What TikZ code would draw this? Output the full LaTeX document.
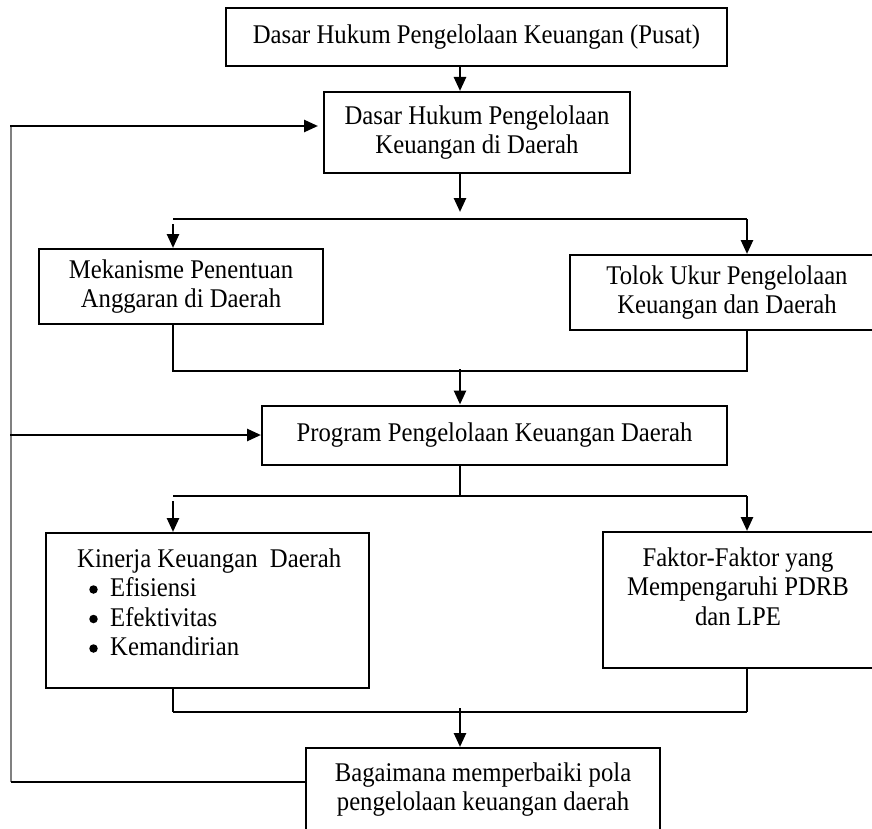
\documentclass[tikz,border=0pt]{standalone}
\usepackage{fontspec}
\setmainfont[FakeStretch=0.915]{Liberation Serif}
\usetikzlibrary{arrows.meta}
\newcommand\dfont{\fontsize{27pt}{29.5pt}\selectfont}
\begin{document}
\begin{tikzpicture}[x=1pt,y=-1pt,
  box/.style={draw,line width=2pt,rectangle,inner sep=0pt,align=center,font=\dfont},
  txt/.style={inner sep=0pt,font=\dfont},
  bul/.style={circle,fill=black,inner sep=0pt,minimum size=8.5pt},
  arr/.style={line width=2.6pt,-{Triangle[length=14pt,width=12pt]}},
  bar/.style={line width=2.6pt},
  conn/.style={line width=1.6pt},
  fb/.style={line width=1.6pt,draw=black!50},
  fbline/.style={line width=1.4pt}]
\useasboundingbox (0,0) rectangle (872,829);
% boxes
\node[box,minimum width=501pt,minimum height=58pt] (top) at (476.5,37) {Dasar Hukum Pengelolaan Keuangan (Pusat)};
\node[box,minimum width=306pt,minimum height=81pt] (dae) at (477,132.5) {Dasar Hukum Pengelolaan\\Keuangan di Daerah};
\node[box,minimum width=284pt,minimum height=75pt] (mek) at (181,286.5) {Mekanisme Penentuan\\Anggaran di Daerah};
\node[box,minimum width=314pt,minimum height=75pt] (tol) at (727,292.5) {Tolok Ukur Pengelolaan\\Keuangan dan Daerah};
\node[box,minimum width=465pt,minimum height=59pt] (prog) at (494.5,435) {Program Pengelolaan Keuangan Daerah};
\node[box,minimum width=323pt,minimum height=155pt] (kin) at (207.5,610.5) {};
\node[box,minimum width=271pt,minimum height=136pt] (fak) at (738.5,600) {};
\node[box,minimum width=354pt,minimum height=102pt] (bag) at (483,799) {};
% texts inside boxes
\node[txt,anchor=base west] (kintxt) at (77,567) {\begin{tabular}[t]{@{}l@{}}Kinerja Keuangan\ \ Daerah\\
\hspace*{33pt}Efisiensi\\
\hspace*{33pt}Efektivitas\\
\hspace*{33pt}Kemandirian\end{tabular}};
\node[bul] (bul1) at (93.5,589.5) {};
\node[bul] (bul2) at (93.5,619) {};
\node[bul] (bul3) at (93.5,648.5) {};
\node[txt,anchor=base] (faktxt) at (738,566) {\begin{tabular}[t]{@{}c@{}}Faktor-Faktor yang\\Mempengaruhi PDRB\\dan LPE\end{tabular}};
\node[txt,anchor=base] (bagtxt) at (483,781) {\begin{tabular}[t]{@{}c@{}}Bagaimana memperbaiki pola\\pengelolaan keuangan daerah\end{tabular}};
% coordinates
\coordinate (cx) at (460,0);
\coordinate (a1) at (460,212);
\coordinate (b1l) at (173,219);
\coordinate (b1r) at (747,219);
\coordinate (j1l) at (173,371);
\coordinate (j1r) at (747,371);
\coordinate (a2) at (460,369);
\coordinate (p1) at (460,496);
\coordinate (b2l) at (173,496);
\coordinate (b2r) at (747,496);
\coordinate (j2l) at (173,712);
\coordinate (j2r) at (747,712);
\coordinate (a3) at (460,708);
\coordinate (f1) at (11,126);
\coordinate (f2) at (11,435);
\coordinate (f3) at (11,782);
\coordinate (f1e) at (318,126);
% connectors
\draw[arr] (top.south -| cx) -- (dae.north -| cx);
\draw[arr] (dae.south -| cx) -- (a1);
\draw[bar] (b1l) -- (b1r);
\draw[arr] ([yshift=-5pt]b1l) -- (mek.north -| b1l);
\draw[arr] (b1r) -- (tol.north -| b1r);
\draw[conn] (mek.south -| j1l) -- (j1l) -- (j1r) -- (tol.south -| j1r);
\draw[arr] (a2) -- (prog.north -| cx);
\draw[conn] (prog.south -| cx) -- (p1);
\draw[bar] (b2l) -- (b2r);
\draw[arr] ([yshift=-5pt]b2l) -- (kin.north -| b2l);
\draw[arr] (b2r) -- (fak.north -| b2r);
\draw[conn] (kin.south -| j2l) -- (j2l);
\draw[conn] (fak.south -| j2r) -- (j2r);
\draw[bar] (j2l) -- (j2r);
\draw[arr] (a3) -- (bag.north -| cx);
% feedback
\draw[fb] (f1) -- (f3);
\draw[fbline] (bag.west |- f3) -- (f3);
\draw[arr] ([xshift=-1pt]f1) -- (f1e);
\draw[arr] ([xshift=-1pt]f2) -- (prog.west);
\end{tikzpicture}
\end{document}
